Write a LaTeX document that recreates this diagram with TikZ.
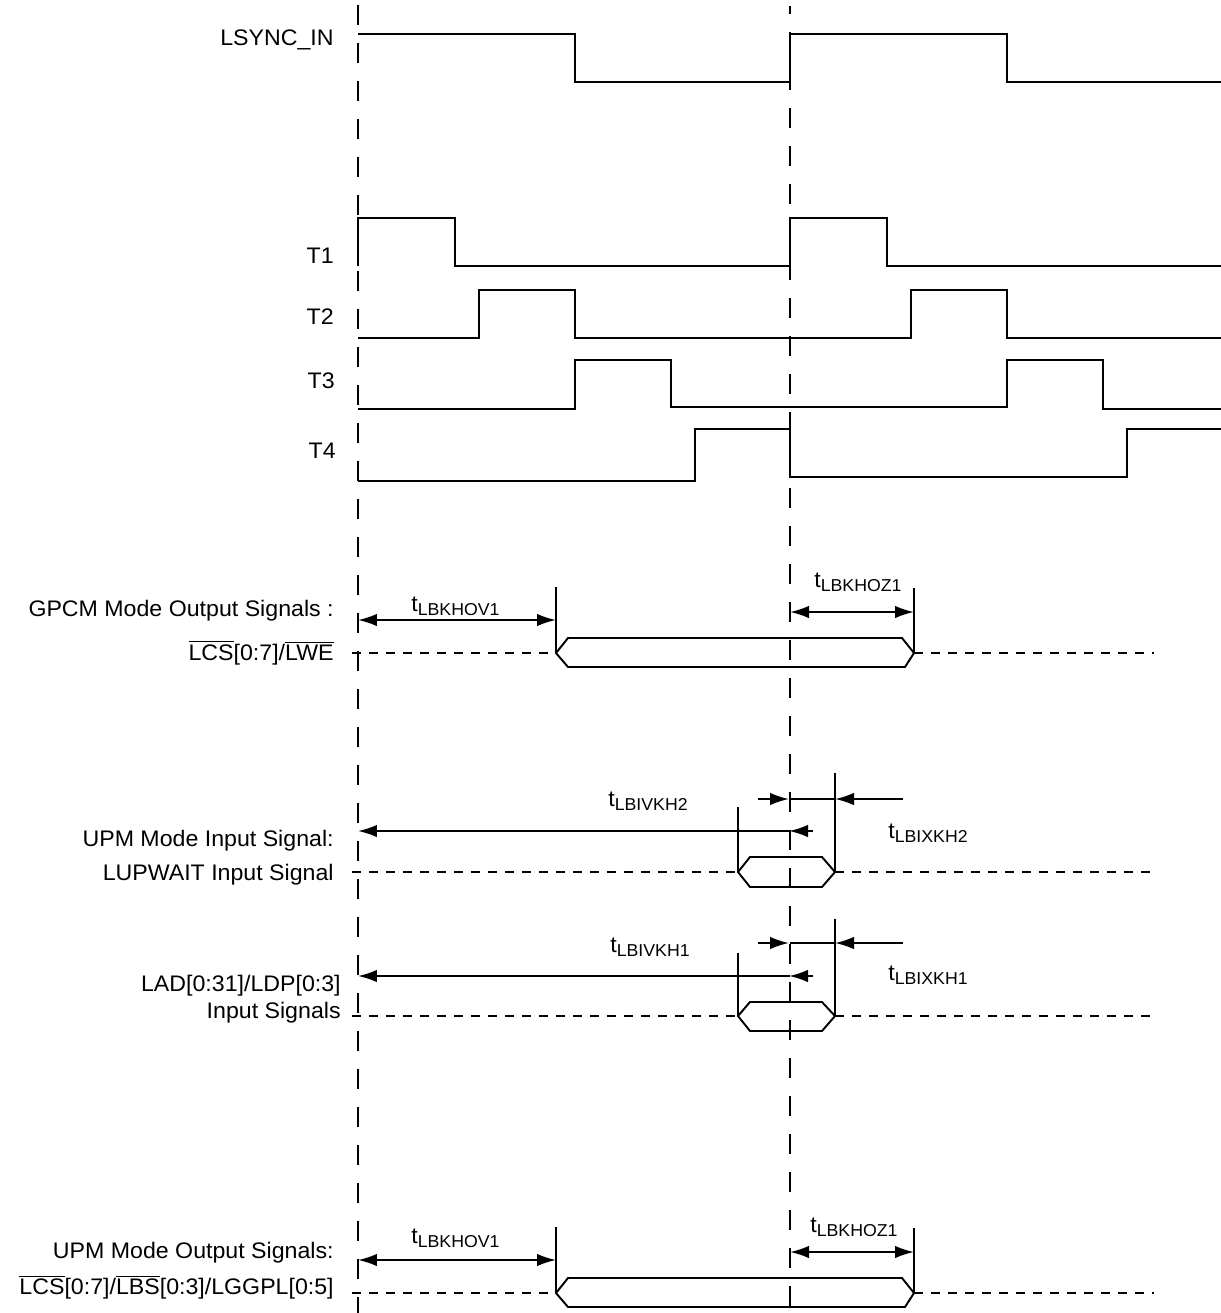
\documentclass[tikz,border=0pt]{standalone}
\usepackage{fontspec}
\setmainfont{Liberation Sans}[FakeStretch=1.03]
\usetikzlibrary{arrows.meta}
\newcommand{\sigsize}{\fontsize{12.8}{15}\selectfont}
\newcommand{\tsub}[1]{t\raisebox{-2.3pt}{\fontsize{9.8}{10}\selectfont #1}}
\newcommand{\ovl}[1]{$\overline{\mbox{#1}}$}

\begin{document}
\begin{tikzpicture}[
        x=0.02cm, y=-0.02cm, % 1 unit = 1 px of the sheet, y down
        every node/.style={font=\sigsize, inner sep=0pt},
        signame/.style={anchor=base east},
        tlabel/.style={anchor=base west},
        wave/.style={line width=1.1pt},
        refline/.style={line width=1.1pt, dash pattern=on 0.4cm off 0.36cm},
        hiz/.style={line width=1.1pt, dash pattern=on 0.18cm off 0.16cm},
        dimarrow/.style={line width=1.1pt, {Latex[length=3.8mm,width=2.5mm]}-{Latex[length=3.8mm,width=2.5mm]}},
        onearrow/.style={line width=1.1pt, -{Latex[length=3.8mm,width=2.5mm]}}
      ]
        \useasboundingbox (0,0) rectangle (1221,1313);

        % clock edge references
        \draw[refline] (358,5) -- (358,1313);
        \draw[refline, dash phase=0.24cm] (790,6) -- (790,1313);

        % signal names
        \node[signame] (lsync) at (334,45) {LSYNC\_IN};
        \node[signame] (tone) at (334,263) {T1};
        \node[signame] (ttwo) at (334,324) {T2};
        \node[signame] (tthree) at (335,388) {T3};
        \node[signame] (tfour) at (336,458) {T4};

        % waveforms
        \draw[wave] (358,34) -- (575,34) -- (575,82) -- (790,82) -- (790,34) -- (1007,34) -- (1007,82) -- (1221,82);
        \draw[wave] (358,266) -- (358,218) -- (455,218) -- (455,266) -- (790,266) -- (790,218) -- (887,218) -- (887,266) -- (1221,266);
        \draw[wave] (358,338) -- (479,338) -- (479,290) -- (575,290) -- (575,338) -- (911,338) -- (911,290) -- (1007,290) -- (1007,338) -- (1221,338);
        \draw[wave] (358,409) -- (575,409) -- (575,360) -- (671,360) -- (671,407) -- (1007,407) -- (1007,360) -- (1103,360) -- (1103,409) -- (1221,409);
        \draw[wave] (358,481) -- (695,481) -- (695,429) -- (790,429) -- (790,477) -- (1127,477) -- (1127,429) -- (1221,429);

        % GPCM outputs
        \node[signame] (gpcm) at (334,616) {GPCM Mode Output Signals :};
        \node[signame] (gpcmsig) at (334,660) {\ovl{LCS}[0:7]/\ovl{LWE}};
        \draw[hiz] (352,653) -- (556,653);
        \draw[wave] (556,653) -- (568,638) -- (902,638) -- (914,653) -- (905,667) -- (568,667) -- cycle;
        \draw[hiz] (914,653) -- (1154,653);
        \draw[wave] (556,587) -- (556,653);
        \draw[wave] (914,588) -- (914,653);
        \draw[dimarrow] (358,620) -- (556,620);
        \draw[dimarrow] (790,612) -- (914,612);
        \node[tlabel] (hova) at (411,611) {\tsub{LBKHOV1}};
        \node[tlabel] (hoza) at (814,587) {\tsub{LBKHOZ1}};

        % UPM input, LUPWAIT
        \node[signame] (upmin) at (334,846) {UPM Mode Input Signal:};
        \node[signame] (lupwait) at (334,880) {LUPWAIT Input Signal};
        \draw[hiz] (352,872) -- (738,872);
        \draw[wave] (738,872) -- (750,857) -- (822,857) -- (835,872) -- (822,887) -- (750,887) -- cycle;
        \draw[hiz] (835,872) -- (1154,872);
        \draw[wave] (738,807) -- (738,872);
        \draw[wave] (835,773) -- (835,872);
        \draw[onearrow] (790,831) -- (358,831);
        \draw[onearrow] (813,831) -- (789,831);
        \draw[onearrow] (758,799) -- (789,799);
        \draw[wave] (790,799) -- (835,799);
        \draw[onearrow] (903,799) -- (835,799);
        \node[tlabel] (ivkhb) at (608,806) {\tsub{LBIVKH2}};
        \node[tlabel] (ixkhb) at (888,838) {\tsub{LBIXKH2}};

        % UPM input, LAD/LDP
        \node[signame] (lad) at (341,991) {LAD[0:31]/LDP[0:3]};
        \node[signame] (ladsig) at (341,1018) {Input Signals};
        \draw[hiz] (352,1016) -- (738,1016);
        \draw[wave] (738,1016) -- (750,1002) -- (822,1002) -- (835,1016) -- (822,1031) -- (750,1031) -- cycle;
        \draw[hiz] (835,1016) -- (1154,1016);
        \draw[wave] (738,953) -- (738,1016);
        \draw[wave] (835,919) -- (835,1016);
        \draw[onearrow] (790,976) -- (358,976);
        \draw[onearrow] (813,976) -- (789,976);
        \draw[onearrow] (758,943) -- (789,943);
        \draw[wave] (790,943) -- (835,943);
        \draw[onearrow] (903,943) -- (835,943);
        \node[tlabel] (ivkha) at (610,952) {\tsub{LBIVKH1}};
        \node[tlabel] (ixkha) at (888,980) {\tsub{LBIXKH1}};

        % UPM outputs
        \node[signame] (upmout) at (334,1258) {UPM Mode Output Signals:};
        \node[signame] (upmsig) at (334,1294) {\ovl{LCS}[0:7]/\ovl{LBS}[0:3]/LGGPL[0:5]};
        \draw[hiz] (352,1293) -- (556,1293);
        \draw[wave] (556,1293) -- (568,1278) -- (902,1278) -- (914,1293) -- (905,1307) -- (568,1307) -- cycle;
        \draw[hiz] (914,1293) -- (1154,1293);
        \draw[wave] (556,1227) -- (556,1293);
        \draw[wave] (914,1228) -- (914,1293);
        \draw[dimarrow] (358,1260) -- (556,1260);
        \draw[dimarrow] (790,1252) -- (914,1252);
        \node[tlabel] (hovb) at (411,1243) {\tsub{LBKHOV1}};
        \node[tlabel] (hozb) at (810,1232) {\tsub{LBKHOZ1}};
      \end{tikzpicture}
\end{document}
